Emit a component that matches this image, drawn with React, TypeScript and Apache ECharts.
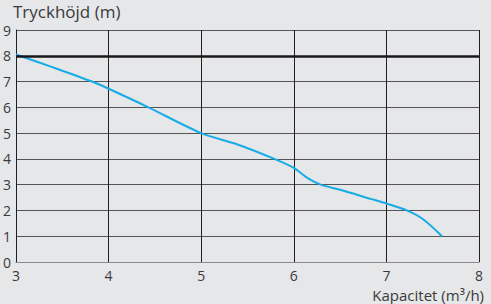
import React, { useEffect, useRef } from "react";
import * as echarts from "echarts";

const capacity = [3.0, 3.4, 3.82, 4.0, 4.43, 5.0, 5.4, 5.79, 6.0, 6.15, 6.29, 6.5, 6.83, 7.0, 7.22, 7.4, 7.6];
const head = [8.05, 7.55, 7.0, 6.72, 6.0, 5.0, 4.55, 4.0, 3.65, 3.25, 3.0, 2.8, 2.45, 2.27, 2.0, 1.65, 1.0];
const limitHead = 8;
const yTitle = "Tryckhöjd (m)";
const xTitle = "Kapacitet (m³/h)";

export default function App() {
  const ref = useRef<HTMLDivElement>(null);
  useEffect(() => {
    document.body.style.margin = "0";
    const chart = echarts.init(ref.current!, null, { renderer: "svg" });
    const font = "'Open Sans', 'Noto Sans', sans-serif";
    chart.setOption({
      animation: false,
      backgroundColor: "#e6e7e8",
      textStyle: { fontFamily: font },
      grid: { left: 13, right: 12, top: 30, bottom: 42 },
      graphic: [
        { type: "text", left: 13, top: 3, style: { text: yTitle, fontSize: 17, fill: "#3a3a3c", fontFamily: font } },
        { type: "text", right: 7, top: 287, style: { text: xTitle, fontSize: 15, fill: "#3a3a3c", fontFamily: font } },
      ],
      xAxis: {
        type: "value", min: 3, max: 8, interval: 1,
        axisLine: { show: true, lineStyle: { color: "#8a8a8c", width: 1 } },
        axisTick: { show: false },
        axisLabel: { margin: 6, fontSize: 14, color: "#3a3a3c", fontFamily: font },
        splitLine: { show: true, lineStyle: { color: "#231f20", width: 1 } },
      },
      yAxis: {
        type: "value", min: 0, max: 9, interval: 1,
        axisLine: { show: true, lineStyle: { color: "#231f20", width: 1 } },
        axisTick: { show: false },
        axisLabel: { margin: 5, fontSize: 14, color: "#3a3a3c", fontFamily: font },
        splitLine: { show: true, lineStyle: { color: "#555557", width: 1 } },
      },
      series: [
        {
          type: "line",
          data: capacity.map((c, i) => [c, head[i]]),
          smooth: 0.3,
          showSymbol: false,
          lineStyle: { color: "#17ace6", width: 2 },
          markLine: {
            silent: true, symbol: "none", label: { show: false },
            lineStyle: { color: "#1a1718", width: 2.5, type: "solid" },
            data: [{ yAxis: limitHead }],
          },
          z: 3,
        },
      ],
    });
    return () => chart.dispose();
  }, []);
  return <div ref={ref} style={{ position: "absolute", left: 0, top: 0, width: 491, height: 304 }} />;
}
